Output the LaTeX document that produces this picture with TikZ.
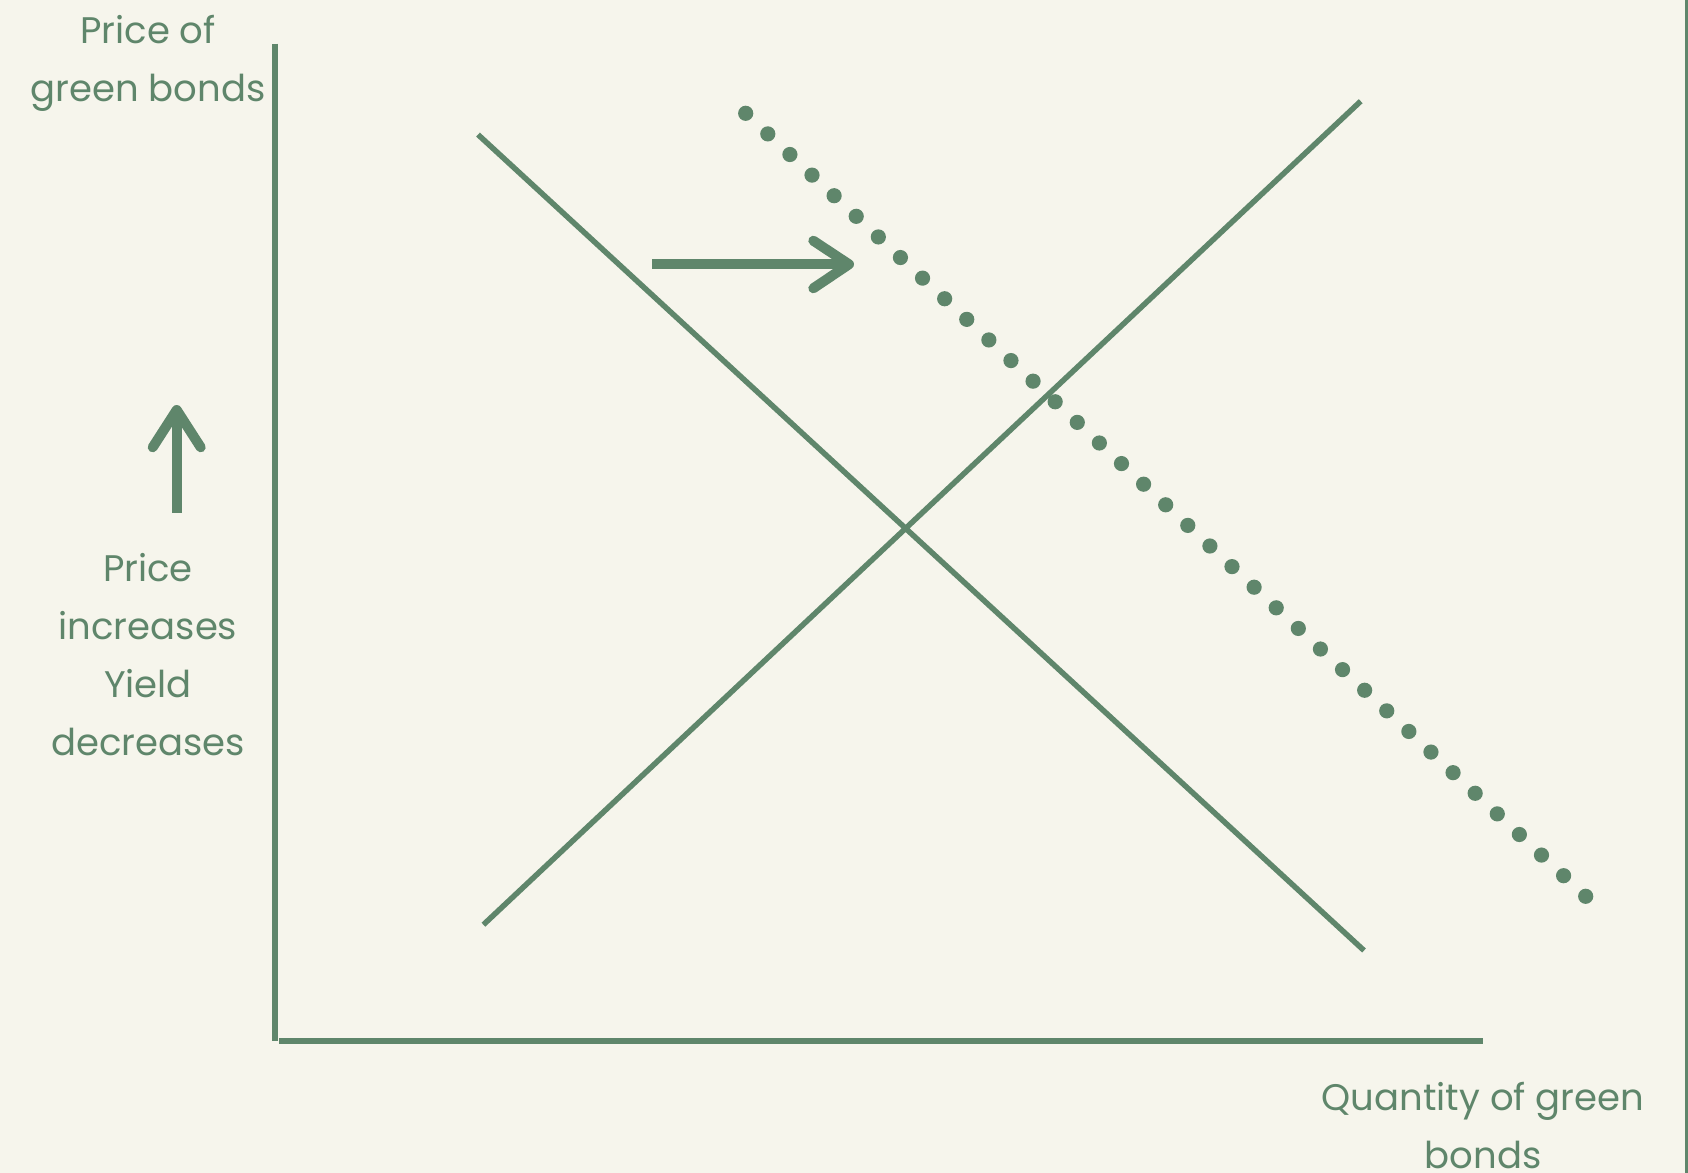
\documentclass[tikz,border=0pt]{standalone}
\usepackage{fontspec}
\setmainfont{Poppins}
\definecolor{grn}{HTML}{5F866B}
\definecolor{bg}{HTML}{F6F5EC}
\tikzset{
  axisline/.style={draw=grn, line width=3pt, line cap=butt},
  curveline/.style={draw=grn, line width=2.75pt},
  arrowshaft/.style={draw=grn, line width=5pt, line cap=butt},
  arrowhead/.style={draw=grn, line width=5pt, line cap=round, line join=round},
  lbl/.style={text=grn, align=center, anchor=base, inner sep=0pt,
    font=\fontsize{18.5pt}{29pt}\selectfont},
}
\begin{document}
\begin{tikzpicture}[x=0.5pt,y=-0.5pt]
\fill[bg] (0,0) rectangle (1688,1173);
\useasboundingbox (0,0) rectangle (1688,1173);
% right border
\draw[grn, line width=1.5pt] (1686.5,0) -- (1686.5,1173);

% axes
\coordinate (ytop) at (275,43.5);
\coordinate (ybot) at (275,1040.7);
\coordinate (xleft) at (279,1041.3);
\coordinate (xright) at (1483,1041.3);
\draw[axisline] (ytop) -- (ybot);
\draw[axisline] (xleft) -- (xright);

% demand and supply
\coordinate (d1) at (478,134.6);
\coordinate (d2) at (1364,950.5);
\coordinate (s1) at (483.4,924.7);
\coordinate (s2) at (1360.7,101.2);
\draw[curveline] (d1) -- (d2);
\draw[curveline] (s1) -- (s2);

% shifted demand (dotted)
\foreach \i in {0,...,38}
  \fill[grn] ({745.7+\i*22.105},{113.3+\i*20.605}) circle (3.8pt);

% right arrow
\coordinate (ra0) at (652.3,264.3);
\coordinate (ratip) at (849,264.3);
\coordinate (raA) at (813.3,240.7);
\coordinate (raB) at (813.3,288.3);
\draw[arrowshaft] (ra0) -- (ratip);
\draw[arrowhead] (raA) -- (ratip) -- (raB);

% up arrow
\coordinate (ua0) at (176.7,512.7);
\coordinate (uatip) at (176.7,410);
\coordinate (uaA) at (152.7,447.3);
\coordinate (uaB) at (200.7,447.3);
\draw[arrowshaft] (ua0) -- (uatip);
\draw[arrowhead] (uaA) -- (uatip) -- (uaB);

% labels (anchor = baseline of last line)
\node[lbl] (ylab) at (148,101.7) {Price of\\green bonds};
\node[lbl] (side) at (148,755) {Price\\increases\\Yield\\decreases};
\node[lbl] (xlab) at (1483,1168.3) {Quantity of green\\bonds};
\end{tikzpicture}
\end{document}
